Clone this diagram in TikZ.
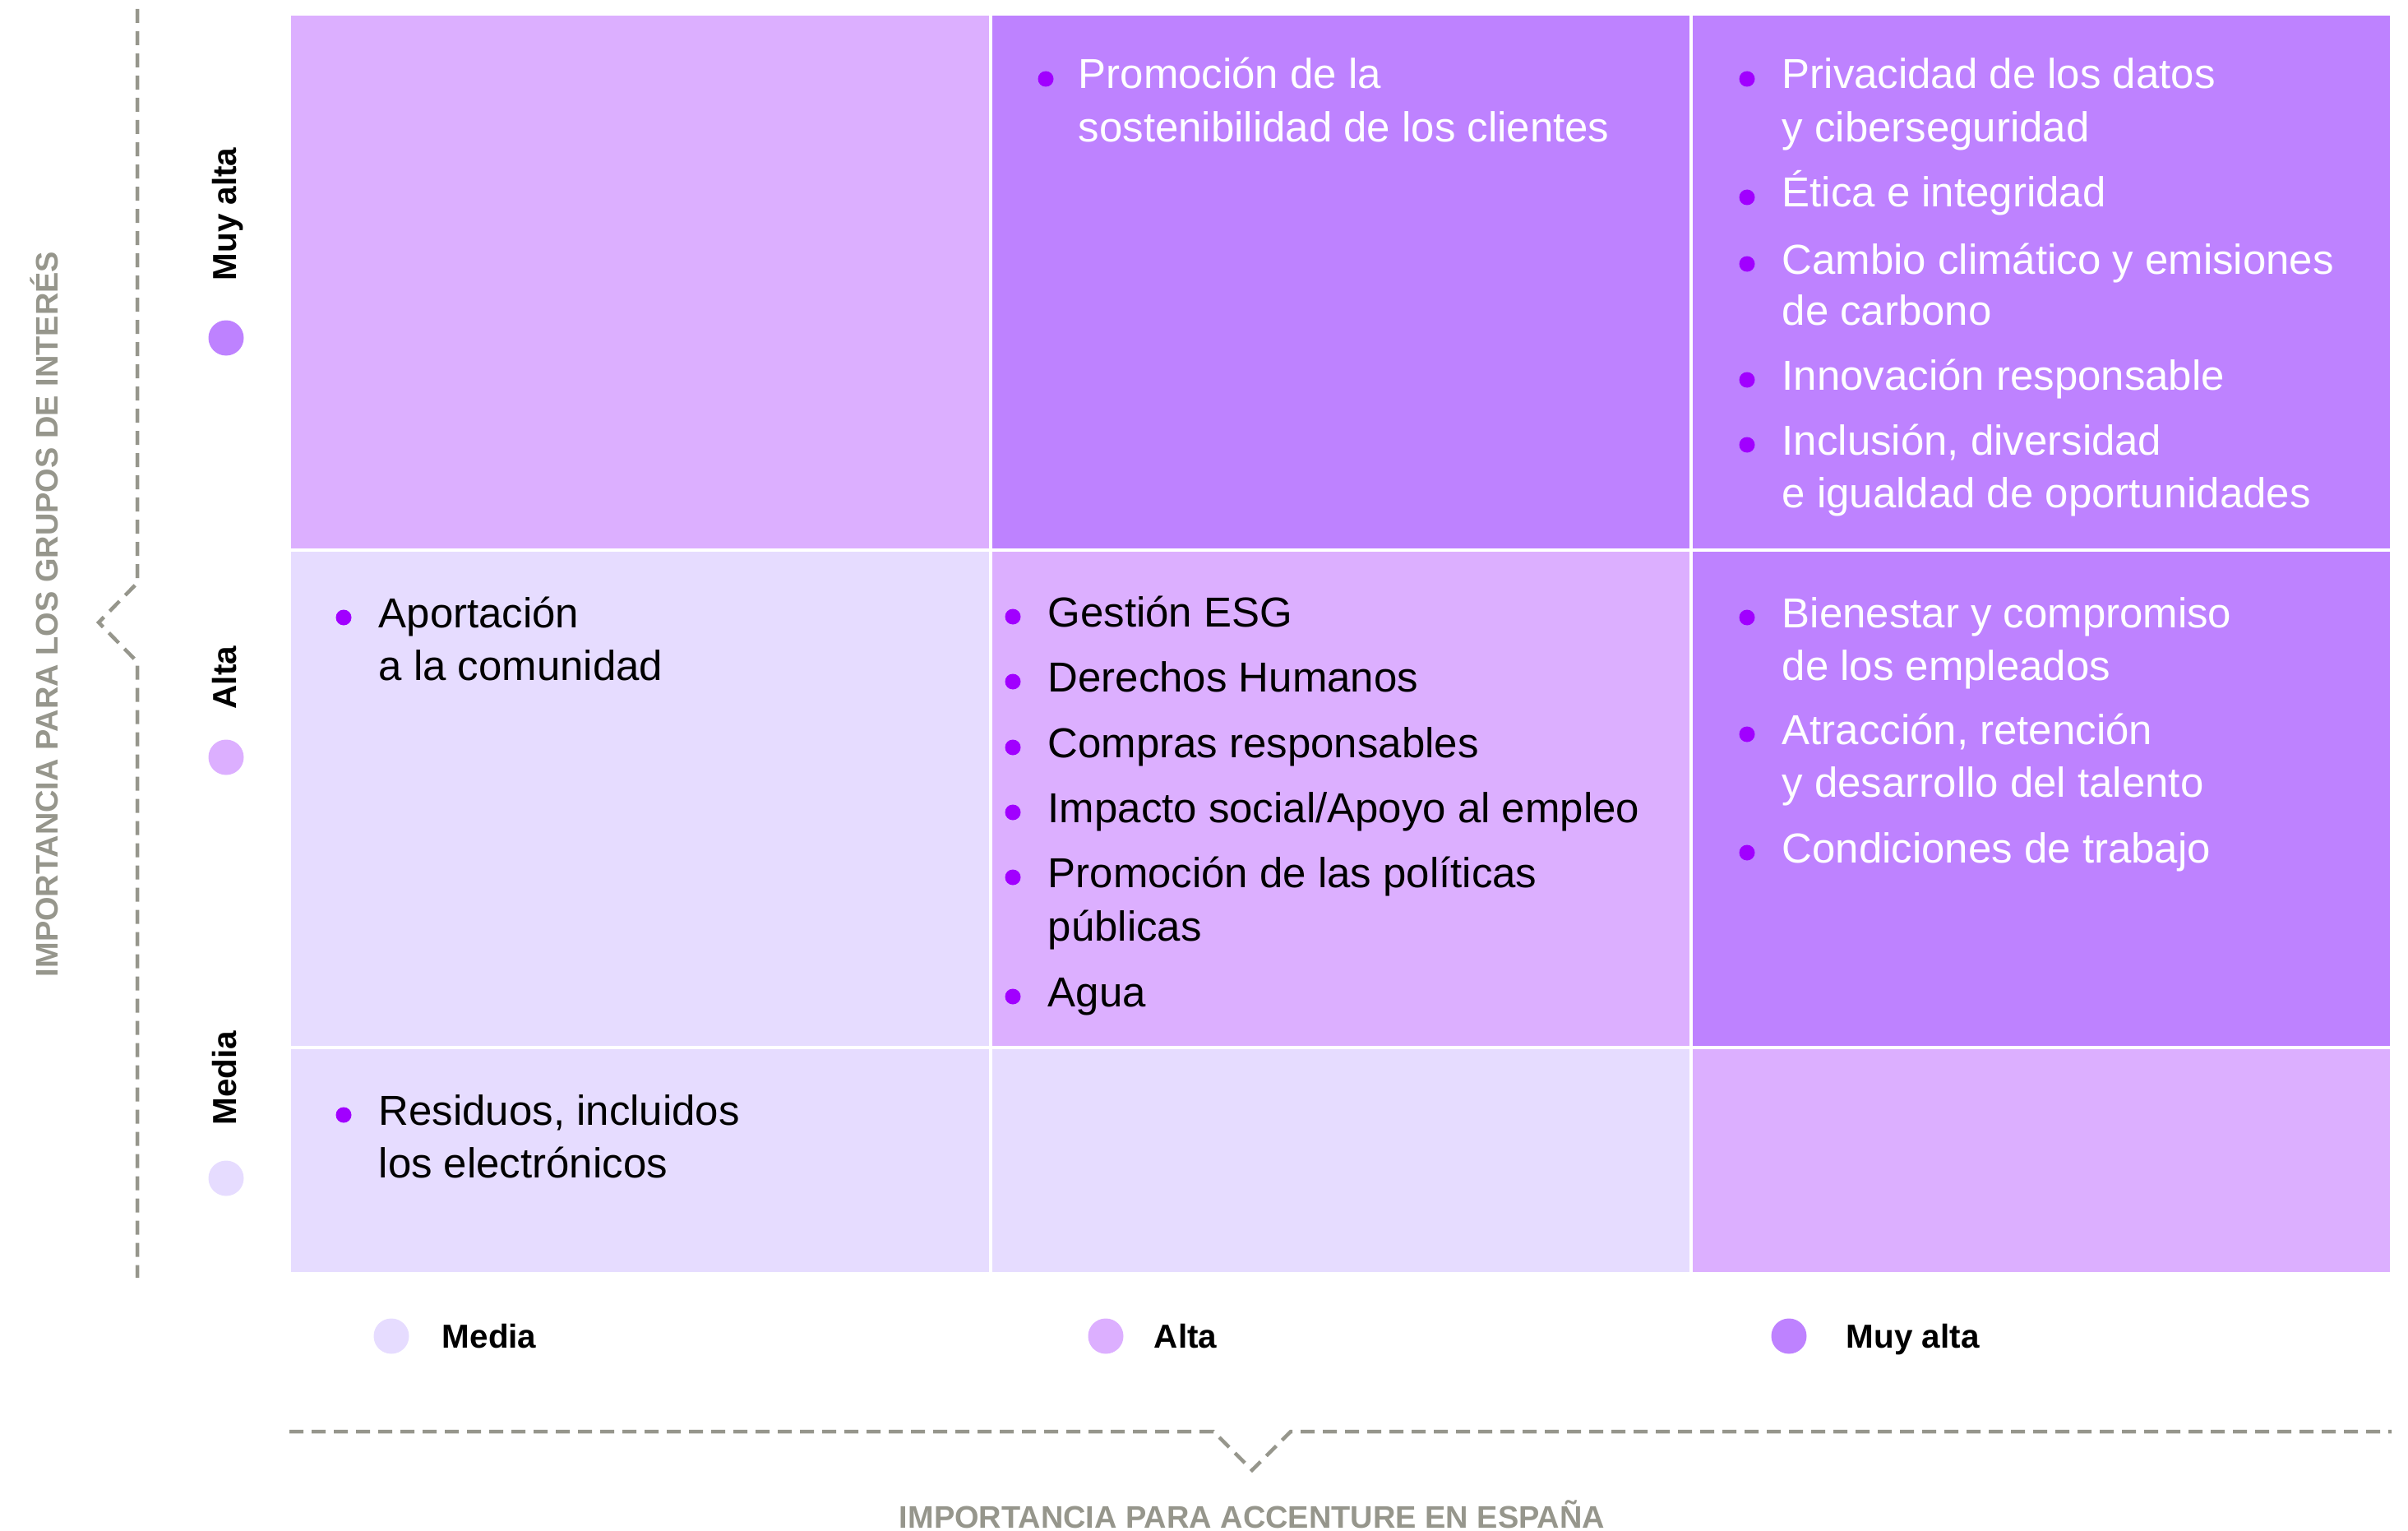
\documentclass[tikz,border=0pt]{standalone}
\usepackage{fontspec}
\setmainfont{Liberation Sans}
\usetikzlibrary{positioning}
\definecolor{muyalta}{HTML}{BE82FF}
\definecolor{alta}{HTML}{DCAFFF}
\definecolor{media}{HTML}{E6DCFF}
\definecolor{bulletpurple}{HTML}{A100FF}
\definecolor{axisgrey}{HTML}{96968C}
\begin{document}
\begin{tikzpicture}[
	cell/.style = {draw=white, line width=0.035cm},
	txt/.style = {anchor=base west, inner sep=0pt, font=\fontsize{14.5}{17}\selectfont},
	wtxt/.style = {txt, text=white},
	bul/.style = {circle, fill=bulletpurple, inner sep=0pt, minimum size=0.19cm},
	lvl/.style = {circle, inner sep=0pt, minimum size=0.43cm},
	lvllabel/.style = {inner sep=0pt, text height=8.3pt, text depth=0pt, font=\bfseries\fontsize{11.5}{13}\selectfont},
	axisline/.style = {draw=axisgrey, line width=0.045cm, dash pattern=on 0.17cm off 0.1cm},
	axislabel/.style = {inner sep=0pt, text=axisgrey, font=\bfseries\fontsize{10.8}{13}\selectfont}
	]
	\useasboundingbox (0,0) rectangle (29.29,-18.62);
	\filldraw [cell, fill=alta] (3.52,-0.17) rectangle (12.05,-6.69);
	\filldraw [cell, fill=muyalta] (12.05,-0.17) rectangle (20.57,-6.69);
	\filldraw [cell, fill=muyalta] (20.57,-0.17) rectangle (29.09,-6.69);
	\filldraw [cell, fill=media] (3.52,-6.69) rectangle (12.05,-12.74);
	\filldraw [cell, fill=alta] (12.05,-6.69) rectangle (20.57,-12.74);
	\filldraw [cell, fill=muyalta] (20.57,-6.69) rectangle (29.09,-12.74);
	\filldraw [cell, fill=media] (3.52,-12.74) rectangle (12.05,-15.49);
	\filldraw [cell, fill=media] (12.05,-12.74) rectangle (20.57,-15.49);
	\filldraw [cell, fill=alta] (20.57,-12.74) rectangle (29.09,-15.49);
	
	\draw [axisline] (1.67,-0.11) -- (1.67,-7.09) -- (1.20,-7.57) -- (1.67,-8.05) -- (1.67,-15.54);
	\draw [axisline] (3.52,-17.41) -- (14.76,-17.41) -- (15.23,-17.88) -- (15.70,-17.41) -- (29.09,-17.41);
	\node [axislabel, rotate=90, anchor=base] (ytitle) at (0.70,-7.47) {IMPORTANCIA PARA LOS GRUPOS DE INTERÉS};
	\node [axislabel, anchor=base] (xtitle) at (15.23,-18.58) {IMPORTANCIA PARA ACCENTURE EN ESPAÑA};
	
	\node [lvl, fill=muyalta] (ymuy) at (2.75,-4.11) {};
	\node [lvllabel, rotate=90, anchor=west] (ymuylabel) at (2.73,-3.42) {Muy alta};
	\node [lvl, fill=alta] (yalta) at (2.75,-9.21) {};
	\node [lvllabel, rotate=90, anchor=west] (yaltalabel) at (2.73,-8.63) {Alta};
	\node [lvl, fill=media] (ymedia) at (2.75,-14.33) {};
	\node [lvllabel, rotate=90, anchor=west] (ymedialabel) at (2.73,-13.69) {Media};
	
	\node [lvl, fill=media] (xmedia) at (4.76,-16.25) {};
	\node [lvllabel, anchor=west, right=0.39cm of xmedia] (xmedialabel) {Media};
	\node [lvl, fill=alta] (xalta) at (13.45,-16.25) {};
	\node [lvllabel, anchor=west, right=0.36cm of xalta] (xaltalabel) {Alta};
	\node [lvl, fill=muyalta] (xmuy) at (21.76,-16.25) {};
	\node [lvllabel, anchor=west, right=0.47cm of xmuy] (xmuylabel) {Muy alta};
	
	\node [bul] (b11) at (12.72,-0.96) {};
	\node [wtxt] (t11a) at (13.11,-1.08) {Promoción de la};
	\node [wtxt] (t11b) at (13.11,-1.73) {sostenibilidad de los clientes};
	
	\node [bul] (b21) at (21.25,-0.96) {};
	\node [wtxt] (t21a) at (21.67,-1.08) {Privacidad de los datos};
	\node [wtxt] (t21b) at (21.67,-1.73) {y ciberseguridad};
	\node [bul] (b22) at (21.25,-2.40) {};
	\node [wtxt] (t22) at (21.67,-2.52) {Ética e integridad};
	\node [bul] (b23) at (21.25,-3.21) {};
	\node [wtxt] (t23a) at (21.67,-3.33) {Cambio climático y emisiones};
	\node [wtxt] (t23b) at (21.67,-3.95) {de carbono};
	\node [bul] (b24) at (21.25,-4.62) {};
	\node [wtxt] (t24) at (21.67,-4.74) {Innovación responsable};
	\node [bul] (b25) at (21.25,-5.41) {};
	\node [wtxt] (t25a) at (21.67,-5.53) {Inclusión, diversidad};
	\node [wtxt] (t25b) at (21.67,-6.17) {e igualdad de oportunidades};
	
	\node [bul] (b31) at (4.18,-7.51) {};
	\node [txt] (t31a) at (4.60,-7.63) {Aportación};
	\node [txt] (t31b) at (4.60,-8.27) {a la comunidad};
	
	\node [bul] (b41) at (12.32,-7.50) {};
	\node [txt] (t41) at (12.74,-7.62) {Gestión ESG};
	\node [bul] (b42) at (12.32,-8.29) {};
	\node [txt] (t42) at (12.74,-8.41) {Derechos Humanos};
	\node [bul] (b43) at (12.32,-9.09) {};
	\node [txt] (t43) at (12.74,-9.21) {Compras responsables};
	\node [bul] (b44) at (12.32,-9.88) {};
	\node [txt] (t44) at (12.74,-10.00) {Impacto social/Apoyo al empleo};
	\node [bul] (b45) at (12.32,-10.67) {};
	\node [txt] (t45a) at (12.74,-10.79) {Promoción de las políticas};
	\node [txt] (t45b) at (12.74,-11.44) {públicas};
	\node [bul] (b46) at (12.32,-12.12) {};
	\node [txt] (t46) at (12.74,-12.24) {Agua};
	
	\node [bul] (b51) at (21.25,-7.51) {};
	\node [wtxt] (t51a) at (21.67,-7.63) {Bienestar y compromiso};
	\node [wtxt] (t51b) at (21.67,-8.27) {de los empleados};
	\node [bul] (b52) at (21.25,-8.93) {};
	\node [wtxt] (t52a) at (21.67,-9.05) {Atracción, retención};
	\node [wtxt] (t52b) at (21.67,-9.69) {y desarrollo del talento};
	\node [bul] (b53) at (21.25,-10.37) {};
	\node [wtxt] (t53) at (21.67,-10.49) {Condiciones de trabajo};
	
	\node [bul] (b61) at (4.18,-13.56) {};
	\node [txt] (t61a) at (4.60,-13.68) {Residuos, incluidos};
	\node [txt] (t61b) at (4.60,-14.32) {los electrónicos};
	
\end{tikzpicture}
\end{document}
